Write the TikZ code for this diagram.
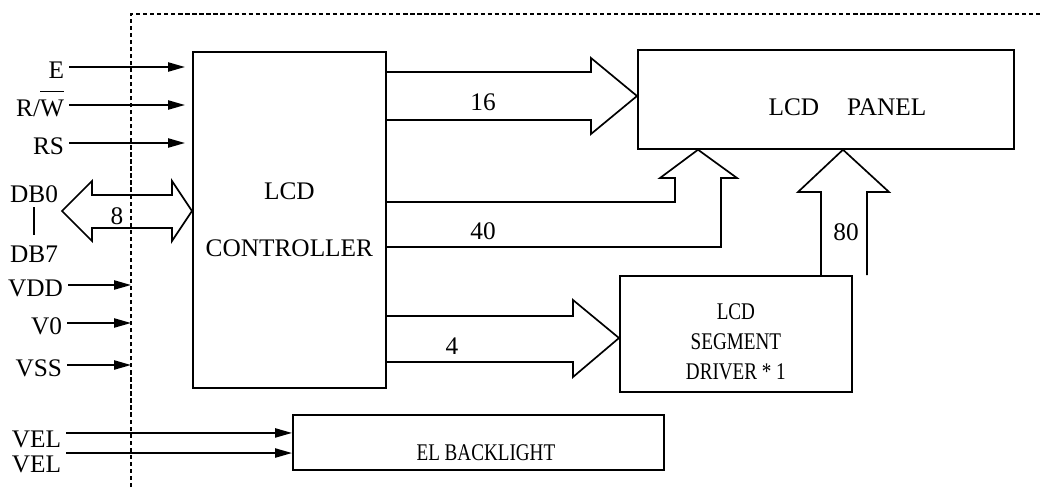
\documentclass[tikz,border=0pt]{standalone}
\usepackage{fontspec}
\setmainfont{Liberation Serif}
\newfontfamily\narrowfont{Liberation Serif}[FakeStretch=0.8]
\usetikzlibrary{arrows.meta,positioning,calc}

\begin{document}
\begin{tikzpicture}[
  x=0.025cm, y=-0.025cm,
  font=\fontsize{18}{21}\selectfont,
  box/.style={draw, line width=1.2pt, inner sep=0pt, align=center, anchor=north west},
  narrow/.style={font=\narrowfont\fontsize{17}{21.3}\selectfont},
  pin/.style={anchor=east, text height=16pt, text depth=0pt},
  lowpin/.style={anchor=base east, inner ysep=1pt},
  arr/.style={-{Triangle[length=12pt,width=6.5pt]}, line width=1.2pt},
  bus/.style={draw, line width=1.2pt, line join=miter},
  frame/.style={line width=0.8pt, dash pattern=on 3pt off 2pt}
]
\useasboundingbox (0,0) rectangle (1043,487);

\coordinate (fr) at (131,14);
\draw[frame] (fr |- 0,487) -- (fr) -- (1043,14);

\node[box, minimum width=4.825cm, minimum height=8.4cm] (ctrl) at (192,51) {LCD\\[19.5pt]CONTROLLER};
\node[box, minimum width=9.4cm, minimum height=2.475cm] (panel) at (637,49)
  {\hspace*{30.6pt}\rule{0pt}{22.5pt}LCD\hspace{1.1em}PANEL};
\node[box, narrow, minimum width=5.8cm, minimum height=2.9cm] (drv) at (619,275)
  {\rule{0pt}{21.9pt}LCD\\SEGMENT\\DRIVER * 1};
\node[box, narrow, minimum width=9.275cm, minimum height=1.375cm] (bl) at (292,414)
  {\hspace*{10.7pt}\rule{0pt}{26.2pt}EL BACKLIGHT};

\node[pin] (e) at (69,67) {E};
\node[pin] (rw) at (69,105) {R/$\overline{\rule{0pt}{16.5pt}\mbox{W}}$};
\node[pin] (rs) at (69,143) {RS};
\node[pin] (db0) at (63,191) {DB0};
\node[pin] (db7) at (63,251) {DB7};
\node[pin] (vdd) at (68,285) {VDD};
\node[pin] (v0) at (67,323) {V0};
\node[pin] (vss) at (67,365) {VSS};
\node[lowpin] (vel1) at (66,447) {VEL};
\node[lowpin] (vel2) at (66,472) {VEL};

\foreach \p in {e,rw,rs}
  \draw[arr, shorten >=5pt] (\p.east) -- (\p.east -| ctrl.west);
\foreach \p in {vdd,v0,vss}
  \draw[arr] (\p.east) -- (\p.east -| fr);
\draw[arr] ([yshift=10pt]vel1.base east) -- ([yshift=10pt]vel1.base east -| bl.west);
\draw[arr] ([yshift=13.5pt]vel2.base east) -- ([yshift=13.5pt]vel2.base east -| bl.west);

\draw[line width=1.2pt] (db0.south) -- (db7.north);
\draw[bus] (62,211) -- (92,181) -- (92,195) -- (172,195) -- (172,181) -- (ctrl.west |- 0,211)
  -- (172,241) -- (172,228) -- (92,228) -- (92,241) -- cycle;
\node at (117,216) {8};

\draw[bus] (ctrl.east |- 0,72) -- (591,72) -- (591,58) -- (panel.west |- 0,96)
  -- (591,134) -- (591,120) -- (ctrl.east |- 0,120);
\node at (483,102) {16};

\draw[bus] (ctrl.east |- 0,202) -- (675,202) -- (675,178) -- (660,178) -- (panel.south -| 698,0)
  -- (737,178) -- (721,178) -- (721,247) -- (ctrl.east |- 0,247);
\node at (483,231) {40};

\draw[bus] (drv.north -| 821,0) -- (821,192) -- (798,192) -- (panel.south -| 843,0)
  -- (889,192) -- (867,192) -- (drv.north -| 867,0);
\node at (846,232) {80};

\draw[bus] (ctrl.east |- 0,316) -- (573,316) -- (573,300) -- (drv.west |- 0,338)
  -- (573,377) -- (573,362) -- (ctrl.east |- 0,362);
\node at (452,346) {4};
\end{tikzpicture}
\end{document}
